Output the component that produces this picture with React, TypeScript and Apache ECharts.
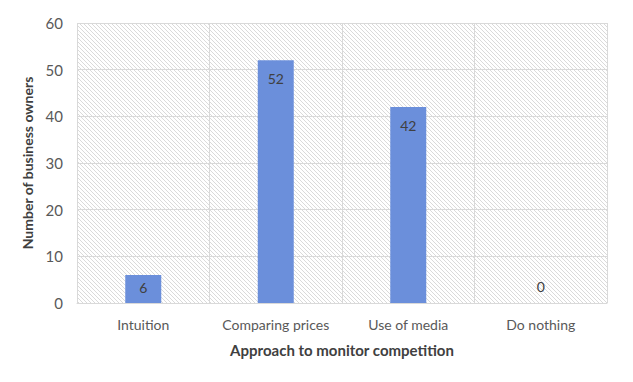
import React, { useEffect, useRef } from "react";
import * as echarts from "echarts";

const categories = ["Intuition", "Comparing prices", "Use of media", "Do nothing"];
const values = [6, 52, 42, 0];
const yTicks = { min: 0, max: 60, interval: 10 };

function makeHatch(): string {
  const c = document.createElement("canvas");
  c.width = 4;
  c.height = 4;
  const ctx = c.getContext("2d")!;
  ctx.fillStyle = "#ffffff";
  ctx.fillRect(0, 0, 4, 4);
  ctx.fillStyle = "#dadada";
  for (let i = 0; i < 4; i++) ctx.fillRect(i, i, 1, 1);
  return c.toDataURL();
}

export default function App() {
  const ref = useRef<HTMLDivElement>(null);
  useEffect(() => {
    const chart = echarts.init(ref.current!, null, { renderer: "svg" });
    const hatch = makeHatch();
    const font = "Lato, 'Open Sans', sans-serif";
    chart.setOption({
      animation: false,
      backgroundColor: "#ffffff",
      textStyle: { fontFamily: font },
      graphic: [
        {
          type: "rect",
          shape: { x: 1.5, y: 4.5, width: 624, height: 374 },
          style: { fill: "none", stroke: "#d9d9d9", lineWidth: 1 },
          silent: true,
          z: -10,
        },
      ],
      grid: {
        left: 77,
        right: 26,
        top: 23,
        bottom: 79,
        show: true,
        borderWidth: 0,
        backgroundColor: { image: hatch, repeat: "repeat" },
      },
      xAxis: {
        type: "category",
        data: categories,
        name: "Approach to monitor competition",
        nameLocation: "middle",
        nameGap: 39,
        nameTextStyle: { fontFamily: font, fontSize: 15, fontWeight: "bold", color: "#404040" },
        axisLine: { lineStyle: { color: "#d9d9d9" } },
        axisTick: { show: false },
        axisLabel: { interval: 0, fontFamily: font, fontSize: 14, color: "#595959", margin: 14 },
        splitLine: { show: true, interval: 0, lineStyle: { color: "#d9d9d9" } },
      },
      yAxis: {
        type: "value",
        min: yTicks.min,
        max: yTicks.max,
        interval: yTicks.interval,
        name: "Number of business owners",
        nameLocation: "middle",
        nameGap: 36,
        nameTextStyle: { fontFamily: font, fontSize: 14, fontWeight: "bold", color: "#404040" },
        axisLine: { show: false },
        axisTick: { show: false },
        axisLabel: { fontFamily: font, fontSize: 15, color: "#595959", margin: 14 },
        splitLine: { show: true, lineStyle: { color: "#d9d9d9" } },
      },
      series: [
        {
          type: "bar",
          barWidth: 36,
          itemStyle: { color: "#6b8fdb" },
          data: values.map((v) => {
            if (v === 0) {
              return { value: v, label: { position: "top", distance: 10 } };
            }
            if (v < 10) {
              return { value: v, label: { position: "insideTop", distance: 5 } };
            }
            return v;
          }),
          label: {
            show: true,
            position: "insideTop",
            distance: 11,
            fontFamily: font,
            fontSize: 14,
            color: "#404040",
          },
        },
      ],
    });
    return () => chart.dispose();
  }, []);
  return <div ref={ref} style={{ width: 633, height: 382, margin: -8 }} />;
}
